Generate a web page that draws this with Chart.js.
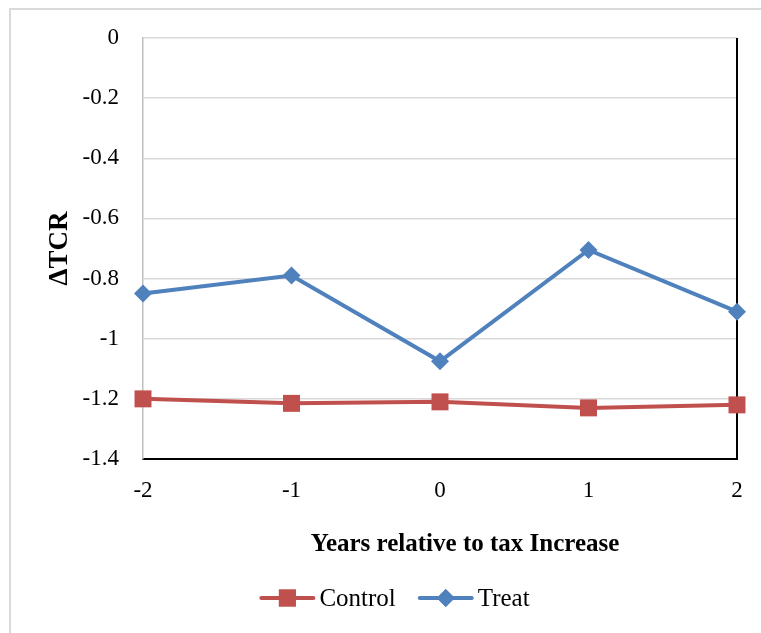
<!DOCTYPE html>
<html>
<head>
<meta charset="utf-8">
<script src="https://cdn.jsdelivr.net/npm/chart.js@4/dist/chart.umd.min.js"></script>
<style>
  html, body { margin: 0; padding: 0; background: #fff; }
  #wrap { width: 761px; height: 633px; }
</style>
</head>
<body>
<div id="wrap"><canvas id="c" width="761" height="633"></canvas></div>
<script>
// values
const years = [-2, -1, 0, 1, 2];
const controlValues = [-1.2, -1.215, -1.21, -1.23, -1.22];
const treatValues = [-0.85, -0.79, -1.075, -0.705, -0.91];
const seriesNames = ['Control', 'Treat'];
const xTitle = 'Years relative to tax Increase';
const yTitle = '\u0394TCR';

const serif = '"Liberation Serif", "DejaVu Serif", serif';
const red = '#c0504d';
const blue = '#4f81bd';

// outer frame, right plot border, axis titles and an Excel-style legend
const decorations = {
  id: 'decorations',
  beforeDraw(chart) {
    const ctx = chart.ctx;
    ctx.save();
    ctx.fillStyle = '#fff';
    ctx.fillRect(0, 0, chart.width, chart.height);
    ctx.strokeStyle = '#d9d9d9';
    ctx.lineWidth = 2;
    ctx.beginPath();
    ctx.moveTo(10, chart.height);
    ctx.lineTo(10, 9);
    ctx.lineTo(chart.width, 9);
    ctx.stroke();
    ctx.restore();
  },
  beforeDatasetsDraw(chart) {
    // right border of plot area, under the markers
    const ctx = chart.ctx;
    const area = chart.chartArea;
    ctx.save();
    ctx.strokeStyle = '#000';
    ctx.lineWidth = 2;
    ctx.beginPath();
    ctx.moveTo(area.right, area.top);
    ctx.lineTo(area.right, area.bottom + 1);
    ctx.stroke();
    ctx.restore();
  },
  afterDraw(chart) {
    const ctx = chart.ctx;
    const area = chart.chartArea;
    ctx.save();
    ctx.fillStyle = '#000';
    ctx.font = 'bold 25px ' + serif;
    ctx.textAlign = 'center';
    ctx.textBaseline = 'middle';
    ctx.fillText(xTitle, (area.left + area.right) / 2 + 25, 545);

    ctx.save();
    ctx.translate(60, (area.top + area.bottom) / 2);
    ctx.rotate(-Math.PI / 2);
    ctx.font = 'bold 27px ' + serif;
    ctx.fillText(yTitle, 0, 0);
    ctx.restore();

    // legend
    ctx.font = '25px ' + serif;
    ctx.textAlign = 'left';
    const y = 598;
    const lineLen = 52;
    const gapText = 6;
    const gapItem = 24;
    const items = chart.data.datasets.map(ds => ({
      ds,
      w: lineLen + gapText + ctx.measureText(ds.label).width
    }));
    const total = items.reduce((s, it) => s + it.w, 0) + gapItem * (items.length - 1);
    let x = chart.width / 2 + 15 - total / 2;
    items.forEach(it => {
      const ds = it.ds;
      ctx.strokeStyle = ds.borderColor;
      ctx.lineWidth = 4;
      ctx.lineCap = 'round';
      ctx.beginPath();
      ctx.moveTo(x, y);
      ctx.lineTo(x + lineLen, y);
      ctx.stroke();
      ctx.fillStyle = ds.pointBackgroundColor;
      Chart.helpers.drawPoint(ctx, {
        pointStyle: ds.pointStyle,
        radius: ds.pointRadius,
        rotation: 0,
        borderWidth: 0
      }, x + lineLen / 2, y);
      ctx.fill();
      ctx.fillStyle = '#000';
      ctx.fillText(ds.label, x + lineLen + gapText, y + 1);
      x += it.w + gapItem;
    });
    ctx.restore();
  }
};

const toPoints = vals => years.map((yr, i) => ({ x: yr, y: vals[i] }));

new Chart(document.getElementById('c'), {
  type: 'line',
  data: {
    datasets: [
      {
        label: seriesNames[0],
        data: toPoints(controlValues),
        borderColor: red,
        backgroundColor: red,
        pointBackgroundColor: red,
        pointBorderColor: red,
        pointBorderWidth: 0,
        pointStyle: 'rect',
        pointRadius: 12,
        borderWidth: 4,
        tension: 0
      },
      {
        label: seriesNames[1],
        data: toPoints(treatValues),
        borderColor: blue,
        backgroundColor: blue,
        pointBackgroundColor: blue,
        pointBorderColor: blue,
        pointBorderWidth: 0,
        pointStyle: 'rectRot',
        pointRadius: 9,
        borderWidth: 4,
        tension: 0
      }
    ]
  },
  options: {
    responsive: false,
    animation: false,
    clip: false,
    layout: { padding: { left: 0, top: 38, right: 24, bottom: 0 } },
    plugins: {
      legend: { display: false },
      tooltip: { enabled: false }
    },
    scales: {
      x: {
        type: 'linear',
        min: -2,
        max: 2,
        afterFit(scale) { scale.height = 174; },
        ticks: {
          stepSize: 1,
          padding: 18,
          color: '#000',
          font: { family: serif, size: 23 }
        },
        grid: { display: false, drawTicks: false },
        border: { color: '#000', width: 2 }
      },
      y: {
        type: 'linear',
        min: -1.4,
        max: 0,
        afterFit(scale) { scale.width = 143; },
        ticks: {
          stepSize: 0.2,
          padding: 24,
          color: '#000',
          font: { family: serif, size: 23 },
          callback: v => String(Math.round(v * 10) / 10)
        },
        grid: { color: '#d9d9d9', lineWidth: 1.5, drawTicks: false },
        border: { color: '#bfbfbf', width: 1.5 }
      }
    }
  },
  plugins: [decorations]
});
</script>
</body>
</html>
